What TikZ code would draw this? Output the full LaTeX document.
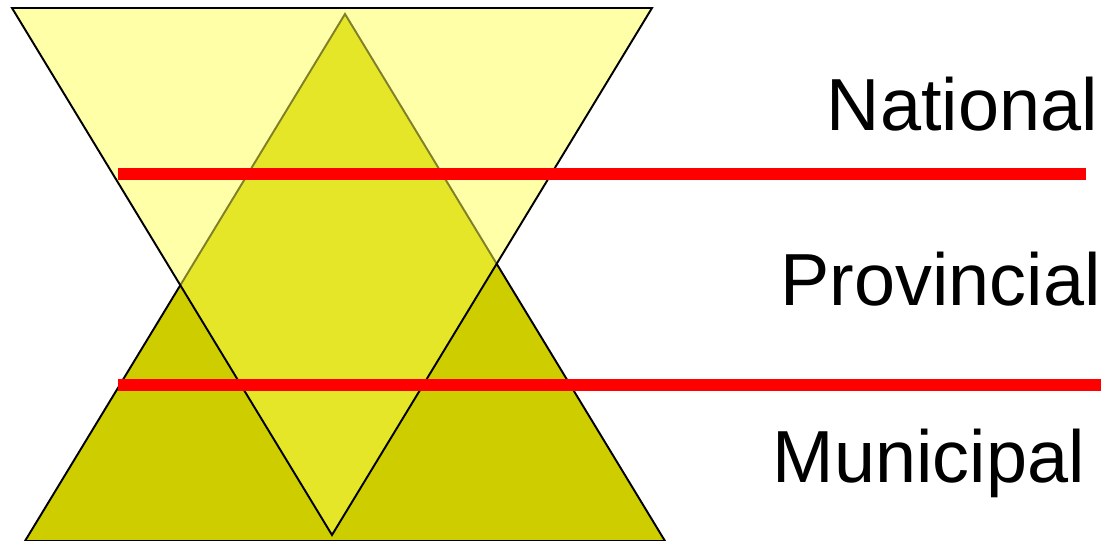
\documentclass[tikz,border=0pt]{standalone}
\usepackage{fontspec}
\setmainfont{Liberation Sans}
\definecolor{olivefill}{HTML}{CDCD00}
\definecolor{paleyellow}{HTML}{FFFF50}
\begin{document}
\begin{tikzpicture}[x=0.02cm,y=-0.02cm,every node/.style={font=\fontsize{42}{48}\selectfont,inner sep=0pt}]
\useasboundingbox (0,0) rectangle (1110,541);
\filldraw[fill=olivefill,draw=black,line width=1.1pt] (345,14) -- (665,541) -- (25,541) -- cycle;
\filldraw[fill=paleyellow,fill opacity=0.5,draw=black,line width=1.1pt] (12,8) -- (652,8) -- (332,535) -- cycle;
\coordinate (l1a) at (118,174);
\coordinate (l1b) at (1086,174);
\coordinate (l2a) at (118,385);
\coordinate (l2b) at (1101,385);
\draw[red,line width=0.25cm] (l1a) -- (l1b);
\draw[red,line width=0.25cm] (l2a) -- (l2b);
\node[anchor=base east] (national) at (1098,130) {National};
\node[anchor=base east] (provincial) at (1101,305) {Provincial};
\node[anchor=base east] (municipal) at (1085,482) {Municipal};
\end{tikzpicture}
\end{document}
